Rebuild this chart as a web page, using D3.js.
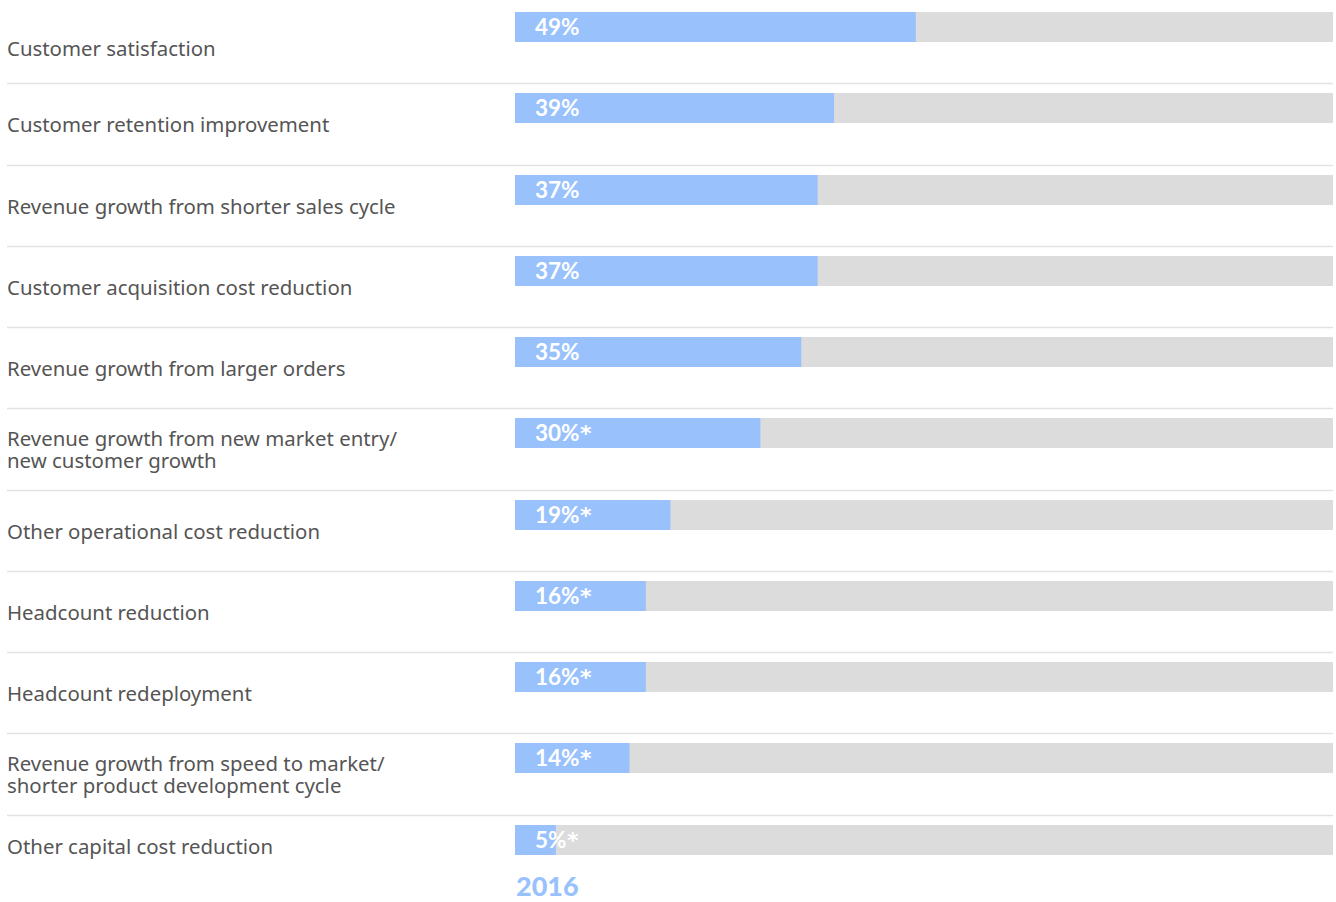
<!DOCTYPE html>
<html>
<head>
<meta charset="utf-8">
<script src="https://cdn.jsdelivr.net/npm/d3@7"></script>
<style>
  html, body { margin: 0; padding: 0; background: #ffffff; }
  svg { display: block; }
</style>
</head>
<body>
<svg id="chart" width="1336" height="902"></svg>
<script>
// Benefits reported, share of respondents (2016)
const categories = [
  ["Customer satisfaction"],
  ["Customer retention improvement"],
  ["Revenue growth from shorter sales cycle"],
  ["Customer acquisition cost reduction"],
  ["Revenue growth from larger orders"],
  ["Revenue growth from new market entry/", "new customer growth"],
  ["Other operational cost reduction"],
  ["Headcount reduction"],
  ["Headcount redeployment"],
  ["Revenue growth from speed to market/", "shorter product development cycle"],
  ["Other capital cost reduction"]
];
const values = [49, 39, 37, 37, 35, 30, 19, 16, 16, 14, 5];
const flagged = [false, false, false, false, false, true, true, true, true, true, true];
const yearLabel = "2016";

const svg = d3.select("#chart");

const keys = categories.map((d, i) => i);
const y = d3.scaleBand().domain(keys).range([2, 896]).paddingInner(0).paddingOuter(0);
const x = d3.scaleLinear().domain([0, 100]).range([515, 1333]);

const barOffset = 10, barH = 30;

// separators between rows
svg.append("g")
  .selectAll("line")
  .data(keys.slice(1))
  .join("line")
  .attr("x1", 7).attr("x2", 1333)
  .attr("y1", d => Math.round(y(d)) + 0.5)
  .attr("y2", d => Math.round(y(d)) + 0.5)
  .attr("stroke", "#e2e2e2")
  .attr("stroke-width", 1.6);

const rows = svg.append("g")
  .selectAll("g")
  .data(keys)
  .join("g")
  .attr("transform", d => `translate(0,${Math.round(y(d))})`);

// full-width track
rows.append("rect")
  .attr("x", x(0)).attr("y", barOffset)
  .attr("width", x(100) - x(0)).attr("height", barH)
  .attr("fill", "#dcdcdc");

// value bar
rows.append("rect")
  .attr("x", x(0)).attr("y", barOffset)
  .attr("width", d => x(values[d]) - x(0)).attr("height", barH)
  .attr("fill", "#99c2fd");

// value label, with an asterisk for flagged items
const valueText = rows.append("text")
  .attr("x", x(0) + 20)
  .attr("y", barOffset + barH / 2)
  .attr("dy", "0.35em")
  .attr("font-family", "Lato, 'Open Sans', sans-serif")
  .attr("font-weight", 700)
  .attr("font-size", 22.5)
  .attr("fill", "#ffffff");
valueText.append("tspan").text(d => values[d] + "%");
valueText.filter(d => flagged[d]).append("tspan")
  .attr("font-family", "'DejaVu Sans', sans-serif")
  .attr("font-size", 22)
  .attr("dx", 0.5)
  .text("*");

// category label (one or two lines)
const last = keys.length - 1;
rows.append("text")
  .attr("font-family", "'Noto Sans', 'Open Sans', sans-serif")
  .attr("font-size", 20.4)
  .attr("fill", "#555555")
  .each(function (d) {
    const lines = categories[d];
    const center = d === 0 ? 47 : d === last ? 32 : 42;
    const lh = 22;
    const top = center - (lines.length - 1) * lh / 2;
    d3.select(this).selectAll("tspan")
      .data(lines)
      .join("tspan")
      .attr("x", 7)
      .attr("y", (t, j) => top + j * lh)
      .attr("dy", "0.35em")
      .text(t => t);
  });

// year caption
svg.append("text")
  .attr("x", x(0) + 1)
  .attr("y", 887)
  .attr("dy", "0.35em")
  .attr("font-family", "Lato, 'Open Sans', sans-serif")
  .attr("font-weight", 900)
  .attr("font-size", 27)
  .attr("fill", "#99c2fd")
  .text(yearLabel);
</script>
</body>
</html>
